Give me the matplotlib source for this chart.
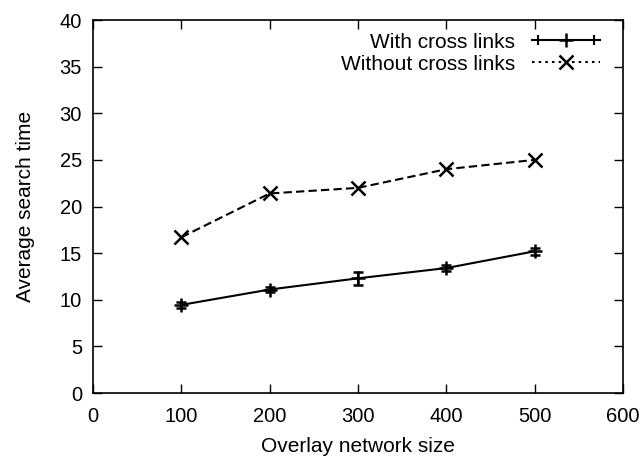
import matplotlib
matplotlib.use('Agg')
from matplotlib import pyplot as plt
from matplotlib.lines import Line2D
from matplotlib.legend_handler import HandlerLine2D

# data
sizes = [100, 200, 300, 400, 500]
with_cross = [9.45, 11.1, 12.3, 13.4, 15.2]
with_err = [0.3, 0.3, 0.7, 0.35, 0.35]
without_cross = [16.7, 21.4, 22.0, 24.0, 25.0]

plt.rcParams['font.family'] = ['Liberation Sans', 'DejaVu Sans']
plt.rcParams['font.size'] = 15

fig = plt.figure(figsize=(6.44, 4.57), dpi=100)
ax = fig.add_axes([0.1444, 0.14, 0.823, 0.8162])

ax.errorbar(sizes, with_cross, yerr=with_err, color='black', lw=1.5,
            marker='+', ms=10, mew=1.8, capsize=3.5, elinewidth=1.5,
            capthick=1.5)
ax.plot(sizes, without_cross, color='black', lw=1.5, ls=(0, (4, 2)),
        marker='x', ms=10, mew=1.8)

ax.set_xlim(0, 600)
ax.set_ylim(0, 40)
ax.set_xticks(range(0, 601, 100))
ax.set_yticks(range(0, 41, 5))
ax.tick_params(direction='in', top=True, right=True, length=6.5, width=1,
               labelsize=14.5)
ax.tick_params(axis='x', pad=10)
ax.tick_params(axis='y', pad=8)
for s in ax.spines.values():
    s.set_linewidth(1.2)

ax.set_xlabel('Overlay network size', labelpad=8)
ax.set_ylabel('Average search time', labelpad=18)

# gnuplot-like legend samples
h_line = Line2D([], [], color='black', lw=1.5, marker='+', ms=10, mew=1.8)
h_caps = Line2D([], [], color='black', ls='none', marker='|', ms=7, mew=1.5)
h_dot = Line2D([], [], color='black', lw=1.5, ls=(0, (1.2, 2)),
               marker='x', ms=10, mew=1.8)
ax.legend([(h_line, h_caps), h_dot],
          ['With cross links', 'Without cross links'],
          handler_map={h_caps: HandlerLine2D(numpoints=2)},
          loc='upper right', bbox_to_anchor=(0.981, 1.0),
          frameon=False, markerfirst=False,
          handlelength=3.3, borderaxespad=0.3, labelspacing=0.15,
          handletextpad=0.8, borderpad=0.3)

fig.savefig('out.png', dpi=100)
